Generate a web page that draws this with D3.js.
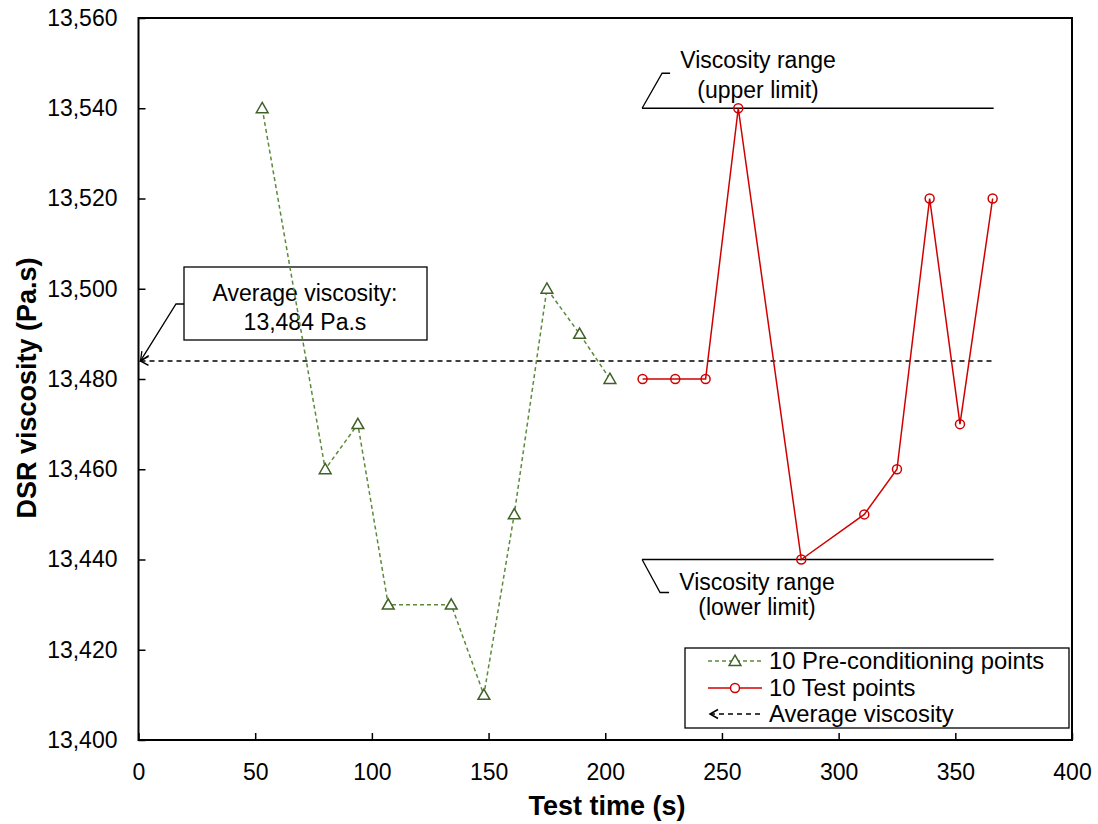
<!DOCTYPE html>
<html><head><meta charset="utf-8">
<script src="https://cdn.jsdelivr.net/npm/d3@7"></script>
<style>body{margin:0;background:#fff}svg{display:block;font-family:"Liberation Sans",Arial,sans-serif}</style>
</head><body><svg id="c" width="1098" height="824"></svg>
<script>
const preTime = [53, 80, 94, 107, 134, 148, 161, 175, 189, 202];
const preVisc = [13540, 13460, 13470, 13430, 13430, 13410, 13450, 13500, 13490, 13480];
const testTime = [216, 230, 243, 257, 284, 311, 325, 339, 352, 366];
const testVisc = [13480, 13480, 13480, 13540, 13440, 13450, 13460, 13520, 13470, 13520];
const avgVisc = 13484;
const upperLimit = 13540, lowerLimit = 13440;
const xTicks = [0, 50, 100, 150, 200, 250, 300, 350, 400];
const yTicks = [13400, 13420, 13440, 13460, 13480, 13500, 13520, 13540, 13560];
const legendLabels = ["10 Pre-conditioning points", "10 Test points", "Average viscosity"];

const FS = 23;
const svg = d3.select("#c");
const L = 138.5, R = 1072, T = 18, B = 740;
const x = d3.scaleLinear().domain([0, 400]).range([L, R]);
const y = d3.scaleLinear().domain([13400, 13560]).range([B, T]);
const fmt = d3.format(",");

// frame
svg.append("rect").attr("x", L).attr("y", T).attr("width", R - L).attr("height", B - T)
  .attr("fill", "none").attr("stroke", "#000").attr("stroke-width", 2);

// axes
const xa = svg.append("g").attr("transform", `translate(0,${B})`)
  .call(d3.axisBottom(x).tickValues(xTicks).tickSize(-7).tickPadding(24).tickFormat(d3.format("d")));
const ya = svg.append("g").attr("transform", `translate(${L},0)`)
  .call(d3.axisLeft(y).tickValues(yTicks).tickSize(-7).tickPadding(21).tickFormat(fmt));
[xa, ya].forEach(a => {
  a.select(".domain").remove();
  a.selectAll("line").attr("stroke", "#000").attr("stroke-width", 1.5);
  a.selectAll("text").attr("font-size", FS).attr("fill", "#000")
    .attr("font-family", '"Liberation Sans",Arial,sans-serif');
});
xa.selectAll("text").attr("dy", "0.71em");

// axis titles
svg.append("text").attr("x", 607).attr("y", 815).attr("text-anchor", "middle")
  .attr("font-size", 27).attr("font-weight", "bold").text("Test time (s)");
svg.append("text").attr("transform", `translate(36,${388}) rotate(-90)`).attr("text-anchor", "middle")
  .attr("font-size", 27).attr("font-weight", "bold").text("DSR viscosity (Pa.s)");

// limit lines
const limX0 = x(216) - 0.5, limX1 = x(366) + 1;
[upperLimit, lowerLimit].forEach(v => {
  svg.append("line").attr("x1", limX0).attr("x2", limX1).attr("y1", y(v)).attr("y2", y(v))
    .attr("stroke", "#000").attr("stroke-width", 1.5);
});
// upper callout
svg.append("path").attr("d", `M${limX0},${y(upperLimit)} L${limX0 + 20},${y(upperLimit) - 35} L${limX0 + 28},${y(upperLimit) - 35}`)
  .attr("fill", "none").attr("stroke", "#000").attr("stroke-width", 1.3);
svg.append("text").attr("x", 758).attr("y", 68).attr("text-anchor", "middle").attr("font-size", FS).text("Viscosity range");
svg.append("text").attr("x", 758).attr("y", 98).attr("text-anchor", "middle").attr("font-size", FS).text("(upper limit)");
// lower callout
svg.append("path").attr("d", `M${limX0},${y(lowerLimit)} L${limX0 + 18},${y(lowerLimit) + 33} L${limX0 + 27},${y(lowerLimit) + 33}`)
  .attr("fill", "none").attr("stroke", "#000").attr("stroke-width", 1.3);
svg.append("text").attr("x", 757).attr("y", 590).attr("text-anchor", "middle").attr("font-size", FS).text("Viscosity range");
svg.append("text").attr("x", 757).attr("y", 615).attr("text-anchor", "middle").attr("font-size", FS).text("(lower limit)");

// average line
const ay = y(avgVisc);
svg.append("line").attr("x1", L + 2).attr("x2", x(366)).attr("y1", ay).attr("y2", ay)
  .attr("stroke", "#000").attr("stroke-width", 1.5).attr("stroke-dasharray", "5,4");
svg.append("path").attr("d", `M${L + 10},${ay - 4.5} L${L + 2},${ay} L${L + 10},${ay + 4.5}`)
  .attr("fill", "none").attr("stroke", "#000").attr("stroke-width", 1.5);

// average callout box
svg.append("rect").attr("x", 184).attr("y", 267).attr("width", 243).attr("height", 73)
  .attr("fill", "#fff").attr("stroke", "#000").attr("stroke-width", 1.3);
svg.append("text").attr("x", 305).attr("y", 301).attr("text-anchor", "middle").attr("font-size", FS).text("Average viscosity:");
svg.append("text").attr("x", 305).attr("y", 330).attr("text-anchor", "middle").attr("font-size", FS).text(fmt(avgVisc) + " Pa.s");
svg.append("path").attr("d", `M184,304 L176,304 L${L + 2},${ay}`)
  .attr("fill", "none").attr("stroke", "#000").attr("stroke-width", 1.3);
(function(){
  const dx = 176 - (L + 2), dy = 304 - ay, len = Math.hypot(dx, dy), ux = dx / len, uy = dy / len;
  const s = 9, px = L + 2, py = ay;
  const bx = px + ux * s, by = py + uy * s, nx = -uy, ny = ux;
  svg.append("path").attr("d", `M${bx + nx * 4},${by + ny * 4} L${px},${py} L${bx - nx * 4},${by - ny * 4}`)
    .attr("fill", "none").attr("stroke", "#000").attr("stroke-width", 1.3);
})();

const line = d3.line().x(d => x(d[0])).y(d => y(d[1]));
const preData = preTime.map((t, i) => [t, preVisc[i]]);
const testData = testTime.map((t, i) => [t, testVisc[i]]);
const green = "#5b8a3a", dkGreen = "#3f6128", red = "#d00000";

svg.append("path").datum(preData).attr("d", line).attr("fill", "none")
  .attr("stroke", green).attr("stroke-width", 1.5).attr("stroke-dasharray", "4,3");
const tri = d3.symbol().type(d3.symbolTriangle).size(60);
svg.selectAll(".tri").data(preData).join("path").attr("class", "tri")
  .attr("transform", d => `translate(${x(d[0])},${y(d[1]) + 1})`).attr("d", tri)
  .attr("fill", "#fff").attr("stroke", dkGreen).attr("stroke-width", 1.5);

svg.append("path").datum(testData).attr("d", line).attr("fill", "none")
  .attr("stroke", red).attr("stroke-width", 1.5);
svg.selectAll(".circ").data(testData).join("circle").attr("class", "circ")
  .attr("cx", d => x(d[0])).attr("cy", d => y(d[1])).attr("r", 4.5)
  .attr("fill", "none").attr("stroke", red).attr("stroke-width", 1.5);

// legend
svg.append("rect").attr("x", 685).attr("y", 648).attr("width", 384).attr("height", 80)
  .attr("fill", "#fff").attr("stroke", "#000").attr("stroke-width", 1.3);
const ly = [661, 688, 714], lx0 = 708, lx1 = 762, lxm = (lx0 + lx1) / 2;
svg.append("line").attr("x1", lx0).attr("x2", lx1).attr("y1", ly[0]).attr("y2", ly[0])
  .attr("stroke", green).attr("stroke-width", 1.5).attr("stroke-dasharray", "4,3");
svg.append("path").attr("transform", `translate(${lxm},${ly[0] + 1})`).attr("d", tri)
  .attr("fill", "#fff").attr("stroke", dkGreen).attr("stroke-width", 1.5);
svg.append("line").attr("x1", lx0).attr("x2", lx1).attr("y1", ly[1]).attr("y2", ly[1])
  .attr("stroke", red).attr("stroke-width", 1.5);
svg.append("circle").attr("cx", lxm).attr("cy", ly[1]).attr("r", 4.5)
  .attr("fill", "#fff").attr("stroke", red).attr("stroke-width", 1.5);
svg.append("line").attr("x1", lx0 + 2).attr("x2", lx1).attr("y1", ly[2]).attr("y2", ly[2])
  .attr("stroke", "#000").attr("stroke-width", 1.5).attr("stroke-dasharray", "5,4");
svg.append("path").attr("d", `M${lx0 + 10},${ly[2] - 4.5} L${lx0 + 2},${ly[2]} L${lx0 + 10},${ly[2] + 4.5}`)
  .attr("fill", "none").attr("stroke", "#000").attr("stroke-width", 1.5);
legendLabels.forEach((t, i) => {
  svg.append("text").attr("x", 769).attr("y", ly[i] + 8).attr("font-size", 23.8).text(t);
});
</script></body></html>
